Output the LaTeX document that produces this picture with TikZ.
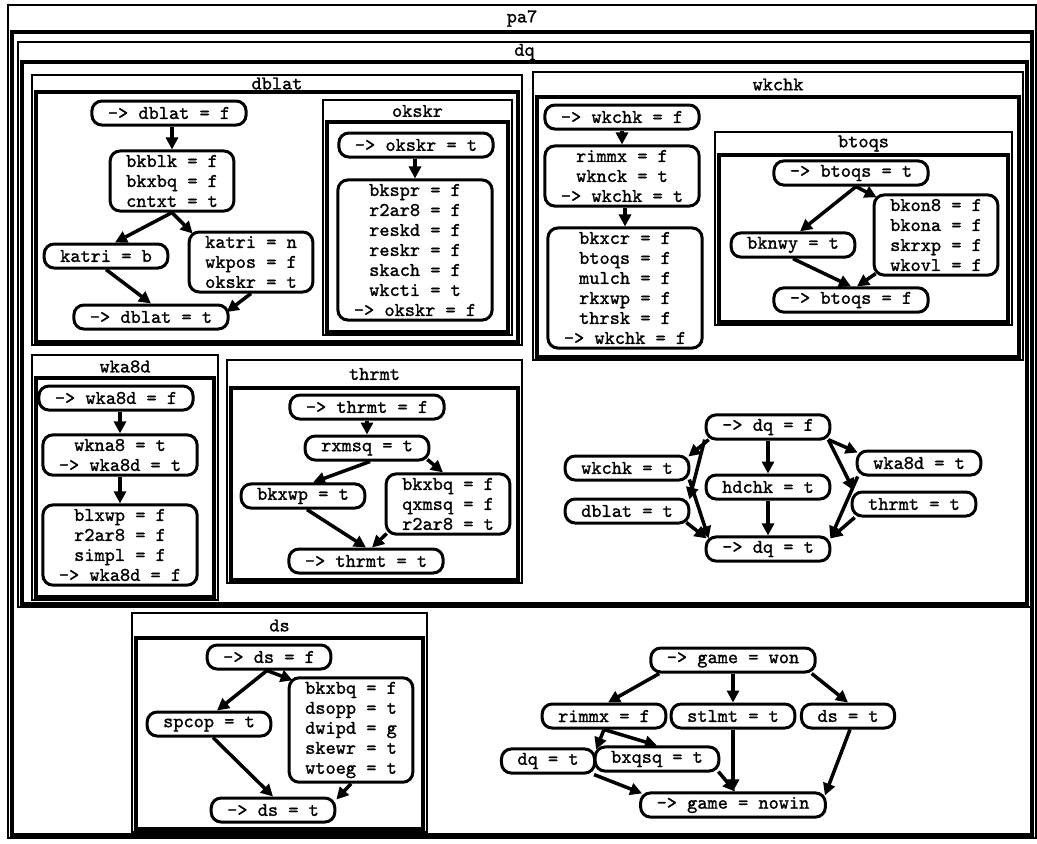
\documentclass[tikz,border=0pt]{standalone}
\usepackage{fontspec}
\setmonofont{lmmono10-regular.otf}[FakeBold=1.2]
\usepackage{tikz}
\usetikzlibrary{positioning,arrows.meta,calc}

\begin{document}
\begin{tikzpicture}[>={Triangle[length=6pt,width=6pt]},
  x=0.5pt,y=-0.5pt,
  st/.style={draw,line width=1.5pt,rounded corners=5pt,fill=white,align=center,
    inner xsep=8pt,inner ysep=2pt,minimum height=12pt,
    font=\ttfamily\fontsize{9.7}{10}\selectfont},
  ar/.style={->,line width=1.75pt},
  ttl/.style={font=\ttfamily\fontsize{9.7}{10}\selectfont,inner sep=0pt}]
\useasboundingbox (0,0) rectangle (1037,843);
% frames: name / outer box / bottom of title bar
\foreach \nm/\xa/\ya/\xb/\yb/\yt in {pa7/8/5/1036/838/32, dq/18/42/1031/607/62,
    dblat/32/75/522/345/92, okskr/323/100/512/335/122, wkchk/533/72/1023/360/97,
    btoqs/715/132/1012/325/155, wka8d/32/355/218/600/378, thrmt/227/360/522/583/388,
    ds/132/613/427/832/638}{
  \draw[line width=1.2pt] (\xa,\ya) rectangle (\xb,\yb);
  \draw[line width=1.8pt] ({\xa+4},\yt) rectangle ({\xb-4},{\yb-3});
  \node[ttl] (t-\nm) at ({(\xa+\xb)/2},{(\ya+\yt)/2}) {\nm};
}
% dblat
\node[st] (dbf) at (169,113) {-> dblat = f};
\node[st] (bkblk) at (172,181) {bkblk = f\\bkxbq = f\\cntxt = t};
\node[st] (katb) at (106,256) {katri = b};
\node[st] (katn) at (251,262) {katri = n\\wkpos = f\\okskr = t};
\node[st] (dbt) at (151,317) {-> dblat = t};
\draw[ar] (bkblk.north |- dbf.south) -- (bkblk.north);
\draw[ar] (bkblk.south) -- ($(katb.north)+(9,0)$);
\draw[ar] (bkblk.south) -- ($(katn.north west)+(5,3)$);
\draw[ar] (katb.south) -- (dbt.north);
\draw[ar] (katn.south) -- ($(dbt.east)+(-3,-5)$);
% okskr
\node[st] (okt) at (416,145) {-> okskr = t};
\node[st] (okbox) at (415,250) {bkspr = f\\r2ar8 = f\\reskd = f\\reskr = f\\skach = f\\wkcti = t\\-> okskr = f};
\draw[ar] (okbox.north |- okt.south) -- (okbox.north);
% wkchk
\node[st] (wkf) at (622,117) {-> wkchk = f};
\node[st] (wkmid) at (622,176) {rimmx = f\\wknck = t\\-> wkchk = t};
\node[st] (wkbox) at (625,288) {bkxcr = f\\btoqs = f\\mulch = f\\rkxwp = f\\thrsk = f\\-> wkchk = f};
\draw[ar] (wkmid.north |- wkf.south) -- (wkmid.north);
\draw[ar] (wkbox.north |- wkmid.south) -- (wkbox.north);
% btoqs
\node[st] (btt) at (851,173) {-> btoqs = t};
\node[st] (bknwy) at (793,245) {bknwy = t};
\node[st] (bkon) at (936,235) {bkon8 = f\\bkona = f\\skrxp = f\\wkovl = f};
\node[st] (btf) at (851,300) {-> btoqs = f};
\draw[ar] ($(btt.south)+(5,0)$) -- ($(bknwy.north)+(7,0)$);
\draw[ar] ($(btt.south)+(5,0)$) -- ($(bkon.north west)+(4,4)$);
\draw[ar] (bknwy.south) -- (btf.north);
\draw[ar] ($(bkon.south west)+(3,-3)$) -- ($(btf.north)+(6,0)$);
% wka8d
\node[st] (waf) at (116,398) {-> wka8d = f};
\node[st] (wamid) at (120,455) {wkna8 = t\\-> wka8d = t};
\node[st] (wabox) at (120,545) {blxwp = f\\r2ar8 = f\\simpl = f\\-> wka8d = f};
\draw[ar] (wamid.north |- waf.south) -- (wamid.north);
\draw[ar] (wamid.south) -- (wabox.north);
% thrmt
\node[st] (thf) at (367,407) {-> thrmt = f};
\node[st] (rxmsq) at (367,448) {rxmsq = t};
\node[st] (bkxwp) at (303,496) {bkxwp = t};
\node[st] (thbox) at (448,504) {bkxbq = f\\qxmsq = f\\r2ar8 = t};
\node[st] (tht) at (366,561) {-> thrmt = t};
\draw[ar] (rxmsq.north |- thf.south) -- (rxmsq.north);
\draw[ar] ($(rxmsq.south)+(3,0)$) -- ($(bkxwp.north)+(10,0)$);
\draw[ar] ($(rxmsq.south east)+(-3,-2)$) -- ($(thbox.north)+(-5,0)$);
\draw[ar] ($(bkxwp.south)+(4,0)$) -- (tht.north);
\draw[ar] ($(thbox.south west)+(2,-2)$) -- ($(tht.north)+(6,0)$);
% dq
\node[st] (dqf) at (768,427) {-> dq = f};
\node[st] (dqwk) at (627,468) {wkchk = t};
\node[st] (dqwa) at (919,463) {wka8d = t};
\node[st] (hdchk) at (768,487) {hdchk = t};
\node[st] (dqdb) at (627,511) {dblat = t};
\node[st] (dqth) at (914,504) {thrmt = t};
\node[st] (dqt) at (768,549) {-> dq = t};
\draw[ar] ($(dqf.south west)+(4,-1)$) -- ($(dqwk.north east)+(-2,2)$);
\draw[ar] ($(dqf.south west)+(0,-1)$) -- ($(dqdb.north east)+(-1,2)$);
\draw[ar] ($(dqwk.south east)+(-1,-2)$) -- ($(dqt.north west)+(4,3)$);
\draw[ar] ($(dqdb.south east)+(-4,-2)$) -- ($(dqt.north west)+(2,3)$);
\draw[ar] ($(dqf.south east)+(-3,-1)$) -- ($(dqwa.north west)+(2,3)$);
\draw[ar] ($(dqf.south east)+(-3,-1)$) -- ($(dqth.north west)+(3,0)$);
\draw[ar] ($(dqwa.south west)+(2,0)$) -- ($(dqt.north east)+(-1,3)$);
\draw[ar] ($(dqth.south west)+(4,0)$) -- ($(dqt.north east)+(-1,3)$);
\draw[ar] (dqf.south) -- (hdchk.north);
\draw[ar] (hdchk.south) -- (dqt.north);
% ds
\node[st] (dsf) at (269,657) {-> ds = f};
\node[st] (spcop) at (209,724) {spcop = t};
\node[st] (dsbox) at (351,730) {bkxbq = f\\dsopp = t\\dwipd = g\\skewr = t\\wtoeg = t};
\node[st] (dst) at (273,810) {-> ds = t};
\draw[ar] ($(dsf.south)+(-2,0)$) -- ($(spcop.north)+(8,0)$);
\draw[ar] ($(dsf.south)+(-2,0)$) -- ($(dsbox.north west)+(5,4)$);
\draw[ar] ($(spcop.south)+(4,0)$) -- (dst.north);
\draw[ar] (dsbox.south) -- ($(dst.north east)+(0,3)$);
% game
\node[st] (gw) at (733,660) {-> game = won};
\node[st] (grim) at (604,716) {rimmx = f};
\node[st] (gst) at (733,716) {stlmt = t};
\node[st] (gds) at (848,716) {ds = t};
\node[st] (gdq) at (548,761) {dq = t};
\node[st] (gbx) at (657,759) {bxqsq = t};
\node[st] (gnw) at (733,805) {-> game = nowin};
\draw[ar] ($(gw.south west)+(10,0)$) -- ($(grim.north)+(4,0)$);
\draw[ar] (gst.north |- gw.south) -- (gst.north);
\draw[ar] ($(gw.south east)+(-5,0)$) -- (gds.north);
\draw[ar] (grim.south) -- ($(gdq.north east)+(0,2)$);
\draw[ar] (grim.south) -- (gbx.north);
\draw[ar] ($(gdq.south east)+(-2,0)$) -- ($(gnw.north west)+(3,2)$);
\draw[ar] ($(gbx.south east)+(-2,-1)$) -- ($(gnw.north)+(2,0)$);
\draw[ar] (gst.south) -- (gst.south |- gnw.north);
\draw[ar] ($(gds.south)+(2,0)$) -- ($(gnw.north east)+(-2,4)$);
\end{tikzpicture}
\end{document}
